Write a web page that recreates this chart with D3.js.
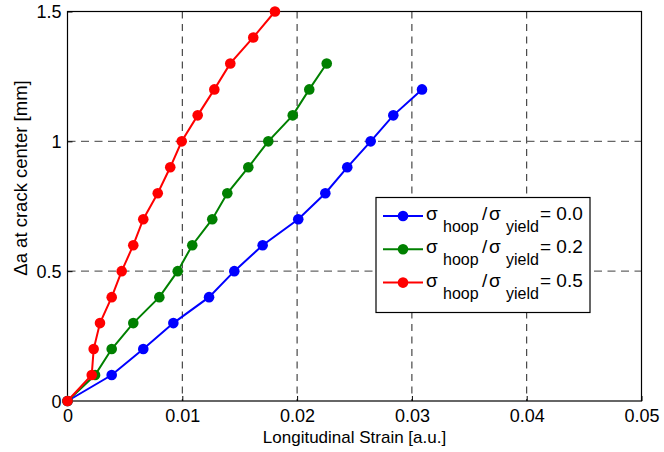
<!DOCTYPE html>
<html>
<head>
<meta charset="utf-8">
<script src="https://cdn.jsdelivr.net/npm/d3@7"></script>
<style>
  body { margin: 0; background: #fff; }
  svg text { font-family: "Liberation Sans", Arial, sans-serif; }
</style>
</head>
<body>
<svg id="chart" width="664" height="452"></svg>
<script>
// data
var deltaA = [0, 0.1, 0.2, 0.3, 0.4, 0.5, 0.6, 0.7, 0.8, 0.9, 1.0, 1.1, 1.2, 1.3, 1.4, 1.5];

var strainHoop00 = [0, 0.00385, 0.0066, 0.00922, 0.01233, 0.01453, 0.0170, 0.0201, 0.02246, 0.02437, 0.02641, 0.02838, 0.03088];
var strainHoop02 = [0, 0.0024, 0.00385, 0.00573, 0.0080, 0.0096, 0.01087, 0.01261, 0.01392, 0.01575, 0.01749, 0.01962, 0.02106, 0.02258];
var strainHoop05 = [0, 0.00211, 0.00228, 0.00283, 0.00385, 0.00472, 0.00573, 0.0066, 0.00786, 0.00895, 0.00995, 0.01134, 0.01279, 0.01418, 0.01618, 0.01807];

var seriesLabels = ["0.0", "0.2", "0.5"];
var seriesColors = ["#0000ff", "#008000", "#ff0000"];

var xTicks = [0, 0.01, 0.02, 0.03, 0.04, 0.05];
var yTicks = [0, 0.5, 1, 1.5];

(function() {
  var allSeries = [strainHoop00, strainHoop02, strainHoop05].map(function(xs, i) {
    return {
      label: seriesLabels[i],
      color: seriesColors[i],
      values: xs.map(function(v, j) { return {x: v, y: deltaA[j]}; })
    };
  });

  var svg = d3.select('#chart');
  var pLeft = 67.5, pRight = 641.5, pTop = 11.5, pBottom = 401;

  var x = d3.scaleLinear().domain([0, 0.05]).range([pLeft, pRight]);
  var y = d3.scaleLinear().domain([0, 1.5]).range([pBottom, pTop]);

  svg.append("rect").attr("width", 664).attr("height", 452).attr("fill", "#fff");

  // grid
  svg.append("g").selectAll("line").data(xTicks.slice(1, -1)).enter().append("line")
      .attr("x1", function(d) { return x(d); }).attr("x2", function(d) { return x(d); })
      .attr("y1", pTop).attr("y2", pBottom)
      .attr("stroke", "#222").attr("stroke-width", 1).attr("stroke-dasharray", "7,5.5");
  svg.append("g").selectAll("line").data(yTicks.slice(1, -1)).enter().append("line")
      .attr("x1", pLeft).attr("x2", pRight)
      .attr("y1", function(d) { return y(d); }).attr("y2", function(d) { return y(d); })
      .attr("stroke", "#666").attr("stroke-width", 1.3).attr("stroke-dasharray", "8,5.5");

  // axes (ticks inward, box on)
  var xAxis = d3.axisBottom(x).tickValues(xTicks).tickSizeInner(-5).tickSizeOuter(0)
      .tickFormat(function(d) { return d === 0 ? "0" : d3.format(".2f")(d); });
  var yAxis = d3.axisLeft(y).tickValues(yTicks).tickSizeInner(-5).tickSizeOuter(0)
      .tickFormat(function(d) { return String(d); });

  var gx = svg.append("g").attr("transform", "translate(0," + pBottom + ")").call(xAxis);
  var gy = svg.append("g").attr("transform", "translate(" + pLeft + ",0)").call(yAxis);
  gx.select(".domain").remove();
  gy.select(".domain").remove();
  gx.selectAll("text").attr("font-size", 18).attr("fill", "#000").attr("dy", 0).attr("y", 21);
  gy.selectAll("text").attr("font-size", 18).attr("fill", "#000").attr("x", -6).attr("dy", "0.35em");
  svg.selectAll(".tick line").attr("stroke", "#000");

  svg.append("rect").attr("x", pLeft).attr("y", pTop)
      .attr("width", pRight - pLeft).attr("height", pBottom - pTop)
      .attr("fill", "none").attr("stroke", "#000").attr("stroke-width", 1.2);

  // axis labels
  svg.append("text").attr("x", (pLeft + pRight) / 2).attr("y", 443)
      .attr("text-anchor", "middle").attr("font-size", 17)
      .text("Longitudinal Strain [a.u.]");
  svg.append("text").attr("transform", "translate(27,178) rotate(-90)")
      .attr("text-anchor", "middle").attr("font-size", 18.5)
      .text("\u0394a at crack center [mm]");

  // series
  var line = d3.line().x(function(d) { return x(d.x); }).y(function(d) { return y(d.y); });
  allSeries.forEach(function(s) {
    var g = svg.append("g");
    g.append("path").datum(s.values).attr("d", line)
        .attr("fill", "none").attr("stroke", s.color).attr("stroke-width", 2);
    g.selectAll("circle").data(s.values).enter().append("circle")
        .attr("cx", function(d) { return x(d.x); })
        .attr("cy", function(d) { return y(d.y); })
        .attr("r", 5.3).attr("fill", s.color);
  });

  // legend
  var lg = svg.append("g").attr("transform", "translate(376,197.5)");
  lg.append("rect").attr("width", 214).attr("height", 115)
      .attr("fill", "#fff").attr("stroke", "#000").attr("stroke-width", 1.2);
  allSeries.forEach(function(s, i) {
    var ly = 18.5 + i * 33.3;
    var e = lg.append("g").attr("transform", "translate(0," + ly + ")");
    e.append("line").attr("x1", 7).attr("x2", 47).attr("y1", 0).attr("y2", 0)
        .attr("stroke", s.color).attr("stroke-width", 2);
    e.append("circle").attr("cx", 27).attr("cy", 0).attr("r", 5.3).attr("fill", s.color);
    var t = e.append("text").attr("y", 4).attr("font-size", 19);
    t.append("tspan").attr("x", 50).text("\u03c3");
    t.append("tspan").attr("x", 67).attr("dy", 12).attr("font-size", 16).text("hoop");
    t.append("tspan").attr("x", 106).attr("dy", -12).text("/");
    t.append("tspan").attr("x", 113).text("\u03c3");
    t.append("tspan").attr("x", 130).attr("dy", 12).attr("font-size", 16).text("yield");
    t.append("tspan").attr("x", 164).attr("dy", -12).text("= " + s.label);
  });
})();
</script>
</body>
</html>
